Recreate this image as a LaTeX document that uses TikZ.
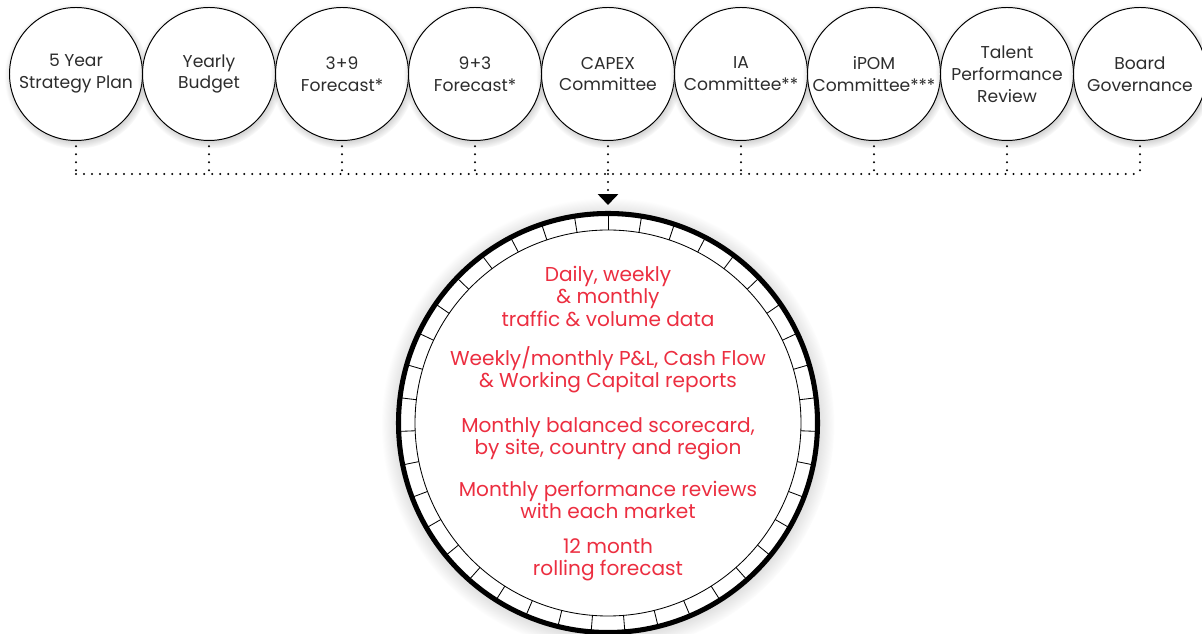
\documentclass[tikz,border=0pt]{standalone}
\usepackage{fontspec}
\setmainfont{Poppins}
\usepackage{tikz}
\usetikzlibrary{arrows.meta,shadows,calc}
\definecolor{kpired}{RGB}{236,46,64}
\definecolor{textgray}{RGB}{45,45,45}
\tikzset{
	meeting/.style={circle,draw=black,line width=0.7pt,fill=white,minimum size=3.325cm,inner sep=0pt,align=center,
		text=textgray,font=\fontsize{12.2}{15.5}\selectfont,
		circular drop shadow={shadow xshift=0.5pt,shadow yshift=-1.5pt,shadow scale=1.09,opacity=0.45}},
	dotline/.style={line width=1.6pt,line cap=round,dash pattern=on 0pt off 5.7pt,black},
	report/.style={align=center,text=kpired,font=\fontsize{14.3}{16}\selectfont}
}
\begin{document}
\begin{tikzpicture}
\useasboundingbox (0,0) rectangle (30.05,15.85);
% top row of meetings
\node[meeting] (m1) at (1.9,14) {5 Year\\Strategy Plan};
\node[meeting] (m2) at (5.225,14) {Yearly\\Budget};
\node[meeting] (m3) at (8.55,14) {3+9\\Forecast*};
\node[meeting] (m4) at (11.875,14) {9+3\\Forecast*};
\node[meeting] (m5) at (15.2,14) {CAPEX\\Committee};
\node[meeting] (m6) at (18.525,14) {IA\\Committee**};
\node[meeting] (m7) at (21.85,14) {iPOM\\Committee***};
\node[meeting] (m8) at (25.175,14) {Talent\\Performance\\Review};
\node[meeting] (m9) at (28.5,14) {Board\\Governance};

% dotted bus
\foreach \i in {1,...,9}{
	\coordinate (b\i) at (m\i.south |- 0,11.5);
	\draw[dotline] ($(m\i.south)+(0,-0.13)$) -- (b\i);
}
\draw[dotline] (b1) -- (b9);

% the big wheel
\node[circle,draw=black,line width=3.6pt,fill=white,minimum size=10.475cm,inner sep=0pt,
	circular drop shadow={shadow xshift=0pt,shadow yshift=-1pt,shadow scale=1.08,opacity=0.5}] (hub) at (15.2,5.275) {};
\draw[black,line width=0.6pt] (hub.center) circle (4.825);
\foreach \k in {0,...,38}
	\draw[black,line width=0.6pt] ($(hub.center)+({90+\k*360/39}:4.825)$) -- ($(hub.center)+({90+\k*360/39}:5.2)$);

\draw[dotline,-{Triangle[length=0.27cm,width=0.5cm]},shorten >=0.15cm] (b5) -- (hub.north);

% reports
\node[report] (r1) at (15.2,8.45) {Daily, weekly\\\& monthly\\traffic \& volume data};
\node[report] (r2) at (15.2,6.6) {Weekly/monthly P\&L, Cash Flow\\\& Working Capital reports};
\node[report] (r3) at (15.2,4.875) {Monthly balanced scorecard,\\by site, country and region};
\node[report] (r4) at (15.2,3.35) {Monthly performance reviews\\with each market};
\node[report] (r5) at (15.2,1.85) {12 month\\rolling forecast};
\end{tikzpicture}
\end{document}
